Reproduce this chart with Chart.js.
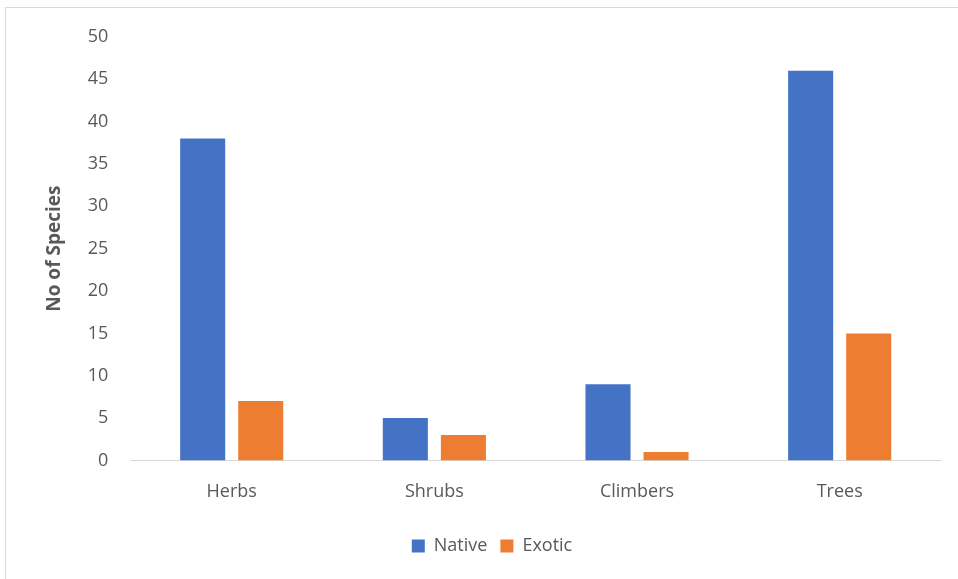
<!DOCTYPE html>
<html>
<head>
<meta charset="utf-8">
<script src="https://cdn.jsdelivr.net/npm/chart.js@4.4.0/dist/chart.umd.min.js"></script>
<style>
  html, body { margin: 0; padding: 0; background: #fff; }
  #frame { position: absolute; left: 5px; top: 7px; width: 960px; height: 580px;
           border-left: 1px solid #d9d9d9; border-top: 1px solid #d9d9d9; }
  #wrap { position: absolute; left: 0; top: 0; width: 958px; height: 579px; }
</style>
</head>
<body>
<div id="frame"></div>
<div id="wrap"><canvas id="grafica1"></canvas></div>
<script>
const categorias = ["Herbs", "Shrubs", "Climbers", "Trees"];
const nativas = [38, 5, 9, 46];
const exoticas = [7, 3, 1, 15];
const ticksY = [0, 5, 10, 15, 20, 25, 30, 35, 40, 45, 50];

const fuente = "'Open Sans', 'Liberation Sans', sans-serif";
const ctx = document.getElementById("grafica1");

new Chart(ctx, {
  type: "bar",
  data: {
    labels: categorias,
    datasets: [
      { label: "Native", data: nativas, backgroundColor: "#4472c4",
        categoryPercentage: 0.573, barPercentage: 0.776 },
      { label: "Exotic", data: exoticas, backgroundColor: "#ed7d31",
        categoryPercentage: 0.573, barPercentage: 0.776 },
    ],
  },
  options: {
    responsive: true,
    maintainAspectRatio: false,
    animation: false,
    layout: { padding: { left: 43, right: 17, top: 37, bottom: 14 } },
    plugins: {
      tooltip: { enabled: false },
      legend: {
        position: "bottom",
        labels: {
          boxWidth: 13, boxHeight: 13, padding: 13,
          color: "#595959", font: { family: fuente, size: 18 },
        },
      },
    },
    scales: {
      x: {
        grid: { display: false, drawTicks: false },
        border: { display: true, color: "#d9d9d9", width: 1 },
        ticks: { color: "#595959", font: { family: fuente, size: 18 }, padding: 21 },
      },
      y: {
        min: 0, max: 50,
        afterBuildTicks: (axis) => { axis.ticks = ticksY.map((v) => ({ value: v })); },
        grid: { display: false, drawTicks: false },
        border: { display: false },
        ticks: { color: "#595959", font: { family: fuente, size: 18 }, padding: 22 },
        title: {
          display: true, text: "No of Species", color: "#595959",
          font: { family: fuente, size: 19, weight: "bold" }, padding: 0,
        },
      },
    },
  },
});
</script>
</body>
</html>
